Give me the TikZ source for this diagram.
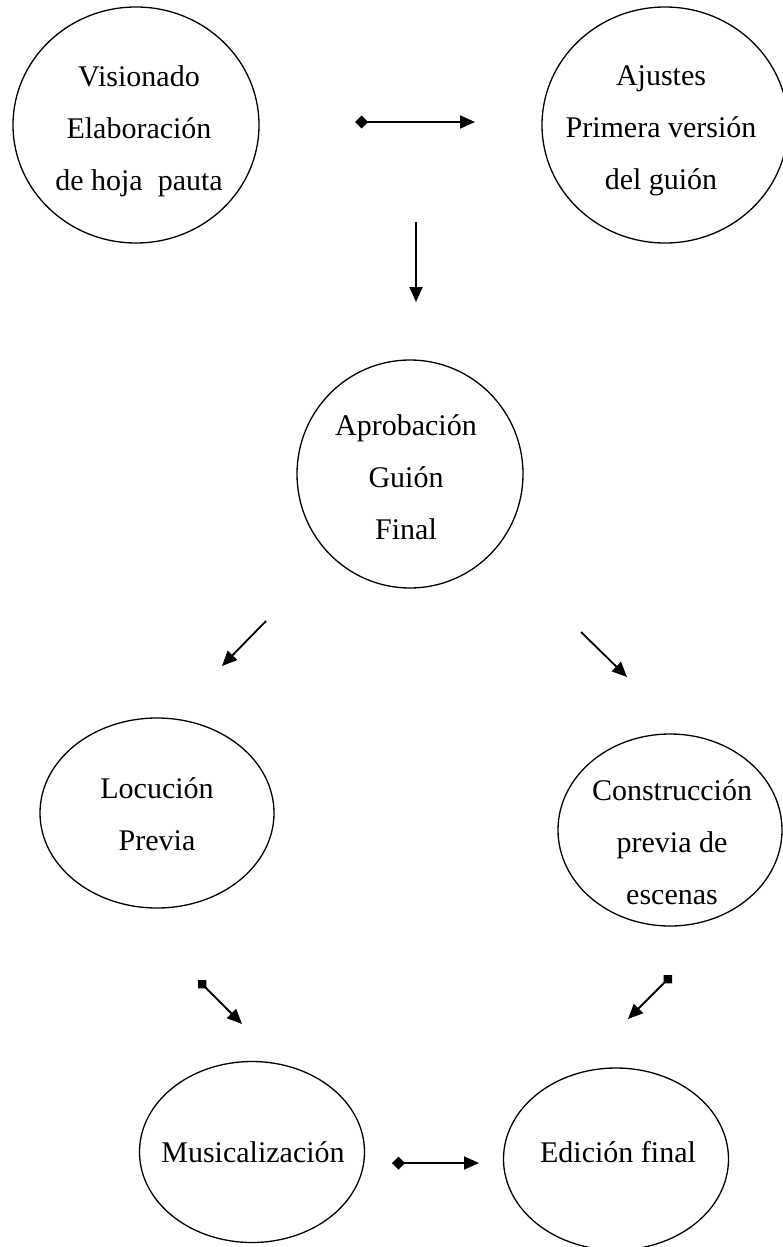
\documentclass[tikz,border=0pt]{standalone}
\usepackage{fontspec}
\setmainfont{Liberation Serif}
\usetikzlibrary{shapes.geometric,arrows.meta}
\tikzset{
  font={\fontsize{15pt}{26pt}\selectfont}
}
\tikzstyle{etapa}=[draw, ellipse, line width=0.65pt, inner sep=0pt]
\tikzstyle{texto}=[align=center, inner sep=0pt]
\tikzstyle{line}=[draw, line width=0.9pt, -{Triangle[length=7.5pt,width=6.5pt]}]
\tikzstyle{rombo}=[line, {Diamond[length=6.5pt,width=6.5pt]}-{Triangle[length=7.5pt,width=6.5pt]}]
\tikzstyle{cuadro}=[line, {Diamond[length=6pt,width=6pt]}-{Triangle[length=7.5pt,width=6.5pt]}]

\begin{document}
\begin{tikzpicture}[x=0.5pt, y=-0.5pt]
\useasboundingbox (0,0) rectangle (782,1247);

\node[etapa, minimum width=123pt, minimum height=118pt] (vis) at (136,125) {};
\node[etapa, minimum width=123pt, minimum height=118pt] (aju) at (665,125) {};
\node[etapa, minimum width=113pt, minimum height=114pt] (apr) at (410,474) {};
\node[etapa, minimum width=117pt, minimum height=95pt] (loc) at (157,813) {};
\node[etapa, minimum width=112pt, minimum height=96pt] (con) at (670,830) {};
\node[etapa, minimum width=112.5pt, minimum height=90.5pt] (mus) at (252,1152) {};
\node[etapa, minimum width=112.5pt, minimum height=91pt] (edi) at (616,1159) {};

\node[texto] (vis_txt) at (139,131) {Visionado\\Elaboración\\de hoja~ pauta};
\node[texto] (aju_txt) at (661,131) {Ajustes\\Primera versión\\del guión};
\node[texto] (apr_txt) at (406,477) {Aprobación\\Guión\\Final};
\node[texto] (loc_txt) at (157,814) {Locución\\Previa};
\node[texto] (con_txt) at (672,842) {Construcción\\previa de\\escenas};
\node[texto] (mus_txt) at (253,1152) {Musicalización};
\node[texto] (edi_txt) at (618,1152) {Edición final};

% extremos de las flechas
\coordinate (vis_aju_a) at (355,122);
\coordinate (vis_aju_b) at (475,122);
\coordinate (aju_apr_a) at (416,222);
\coordinate (aju_apr_b) at (416,302);
\coordinate (apr_loc_a) at (266,621);
\coordinate (apr_loc_b) at (222,666);
\coordinate (apr_con_a) at (581,632);
\coordinate (apr_con_b) at (627,677);
\coordinate (loc_mus_a) at (198,980);
\coordinate (loc_mus_b) at (242,1024);
\coordinate (con_edi_a) at (672,975);
\coordinate (con_edi_b) at (628,1019);
\coordinate (mus_edi_a) at (392,1163);
\coordinate (mus_edi_b) at (479,1163);

\draw[rombo] (vis_aju_a) -- (vis_aju_b);
\draw[line] (aju_apr_a) -- (aju_apr_b);
\draw[line] (apr_loc_a) -- (apr_loc_b);
\draw[line] (apr_con_a) -- (apr_con_b);
\draw[cuadro] (loc_mus_a) -- (loc_mus_b);
\draw[cuadro] (con_edi_a) -- (con_edi_b);
\draw[rombo] (mus_edi_a) -- (mus_edi_b);

\end{tikzpicture}
\end{document}
